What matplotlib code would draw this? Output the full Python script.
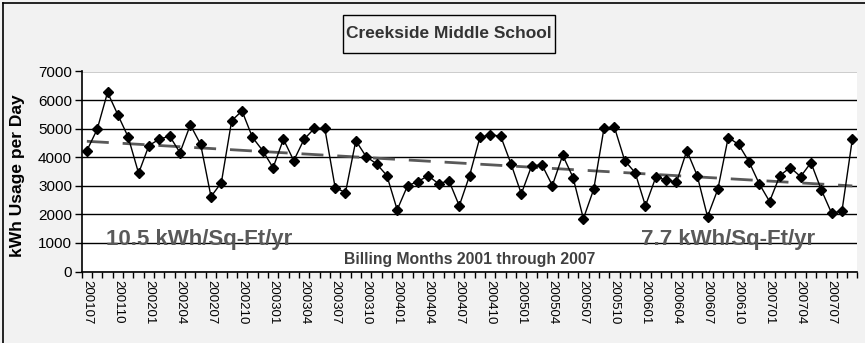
import numpy as np
import matplotlib
matplotlib.use("Agg")
import matplotlib.pyplot as plt
from matplotlib.patches import Rectangle
from matplotlib.lines import Line2D

plt.rcParams['font.family'] = ['Liberation Sans', 'DejaVu Sans']

# Monthly billing periods, July 2001 through September 2007
months = ['200107', '200108', '200109', '200110', '200111', '200112',
          '200201', '200202', '200203', '200204', '200205', '200206',
          '200207', '200208', '200209', '200210', '200211', '200212',
          '200301', '200302', '200303', '200304', '200305', '200306',
          '200307', '200308', '200309', '200310', '200311', '200312',
          '200401', '200402', '200403', '200404', '200405', '200406',
          '200407', '200408', '200409', '200410', '200411', '200412',
          '200501', '200502', '200503', '200504', '200505', '200506',
          '200507', '200508', '200509', '200510', '200511', '200512',
          '200601', '200602', '200603', '200604', '200605', '200606',
          '200607', '200608', '200609', '200610', '200611', '200612',
          '200701', '200702', '200703', '200704', '200705', '200706',
          '200707', '200708', '200709']

# kWh usage per day for each billing month
kwh_per_day = [4230, 4980, 6270, 5480, 4700, 3440,
               4410, 4630, 4740, 4160, 5130, 4450,
               2620, 3110, 5280, 5620, 4700, 4230,
               3630, 4630, 3880, 4630, 5010, 5010,
               2940, 2760, 4580, 4020, 3770, 3360,
               2160, 3000, 3150, 3350, 3070, 3180,
               2300, 3360, 4700, 4780, 4740, 3770,
               2720, 3700, 3730, 3010, 4070, 3290,
               1850, 2880, 5030, 5050, 3880, 3460,
               2300, 3300, 3210, 3120, 4230, 3360,
               1920, 2880, 4690, 4450, 3850, 3070,
               2450, 3360, 3640, 3320, 3810, 2860,
               2040, 2120, 4630]

title = 'Creekside Middle School'
ylabel = 'kWh Usage per Day'
xlabel = 'Billing Months 2001 through 2007'
note_left = '10.5 kWh/Sq-Ft/yr'
note_right = '7.7 kWh/Sq-Ft/yr'

W, H = 865, 343
fig = plt.figure(figsize=(W / 100, H / 100), dpi=100, facecolor='#f2f2f2')


def fx(px):
    return px / W


def fy(py):
    return 1 - py / H


left, right, top, bottom = 81.7, 857.5, 71.5, 271.5
ax = fig.add_axes([fx(left), fy(bottom), fx(right - left), (bottom - top) / H])
ax.set_facecolor('white')

x = np.arange(len(months))
y = np.array(kwh_per_day, dtype=float)

# Gridlines
ax.set_ylim(0, 7000)
ax.set_yticks(np.arange(0, 7001, 1000))
ax.yaxis.grid(True, color='black', linewidth=1.0)
ax.set_axisbelow(True)

# Linear trend
slope, intercept = np.polyfit(x, y, 1)
trend = Line2D(x, slope * x + intercept, color='#595959', linewidth=2.0,
               linestyle=(0, (7.9, 5.0)), dash_capstyle='butt')
ax.add_line(trend)

ax.plot(x, y, color='black', linewidth=1.0, marker='D', markersize=4.8,
        markerfacecolor='black', markeredgecolor='black', zorder=3)

ax.set_xlim(-0.5, len(months) - 0.5)
ax.set_xticks(x[::3])
ax.set_xticklabels(months[::3], rotation=-90, fontsize=9.5, color='black')
ax.set_xticks(np.arange(-0.5, len(months), 1.0), minor=True)
ax.tick_params(axis='x', which='major', length=0, pad=6)
ax.tick_params(axis='x', which='minor', length=4, width=1.0, direction='out')
ax.tick_params(axis='y', length=5, width=1.0, direction='out', labelsize=11, pad=2)

for s in ['top', 'right']:
    ax.spines[s].set_visible(False)
for s in ['left', 'bottom']:
    ax.spines[s].set_color('black')
    ax.spines[s].set_linewidth(1.2)

# Axis title (vertical)
fig.text(fx(18), fy(176), ylabel, rotation=90, ha='center', va='center',
         fontsize=12.5, fontweight='bold', color='black')

# Category caption inside the plot
fig.text(fx(469.5), fy(259.5), xlabel, ha='center', va='center',
         fontsize=11.3, fontweight='bold', color='#404040')

# Energy intensity notes
fig.text(fx(106), fy(245), note_left, ha='left', va='baseline',
         fontsize=16, fontweight='bold', color='#595959')
fig.text(fx(641), fy(244.5), note_right, ha='left', va='baseline',
         fontsize=16, fontweight='bold', color='#595959')

# Boxed title
fig.patches.append(Rectangle((fx(342.7), fy(52.7)), fx(555 - 342.7), (52.7 - 15) / H,
                             transform=fig.transFigure, facecolor='none',
                             edgecolor='black', linewidth=1.0))
fig.text(fx(449), fy(33), title, ha='center', va='center',
         fontsize=12.5, fontweight='bold', color='#333333')

# Outer frame edges
fig.lines.append(Line2D([fx(3), 1], [fy(2.5), fy(2.5)], transform=fig.transFigure,
                        color='black', linewidth=1.2))
fig.lines.append(Line2D([fx(3), fx(3)], [0, fy(2.5)], transform=fig.transFigure,
                        color='black', linewidth=1.2))

fig.savefig('out.png', dpi=100, facecolor=fig.get_facecolor())
